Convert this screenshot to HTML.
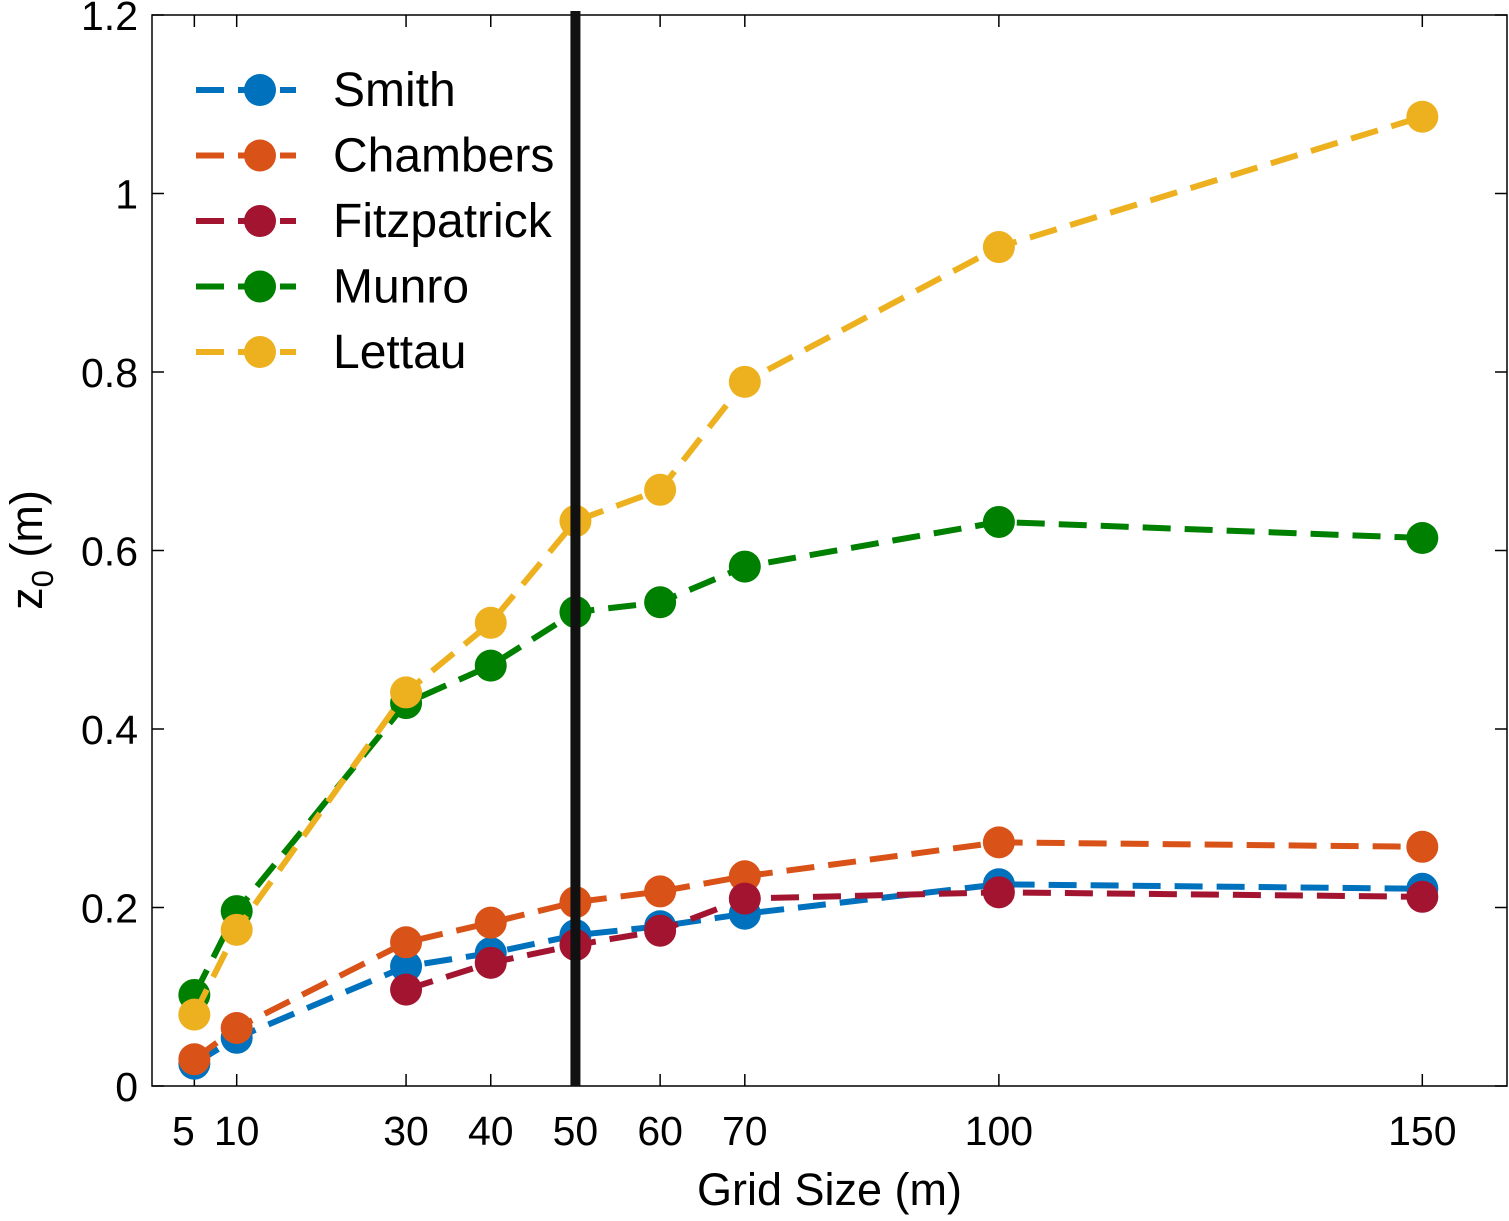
<!DOCTYPE html>
<html><head><meta charset="utf-8"><style>
body{margin:0;background:#fff}
svg text{font-family:"Liberation Sans",Arial,sans-serif;fill:#000}
</style></head><body>
<svg id="chart" width="1509" height="1216" xmlns="http://www.w3.org/2000/svg">
<g id="axes"></g><g id="series"></g><g id="legend"></g>
</svg>
<script>
const xCategories=[5,10,30,40,50,60,70,100,150];
const smithValues=[0.025,0.054,0.134,0.149,0.169,0.179,0.193,0.226,0.221];
const chambersValues=[0.030,0.065,0.161,0.183,0.206,0.218,0.235,0.273,0.268];
const fitzpatrickValues=[null,null,0.108,0.138,0.158,0.174,0.210,0.217,0.212];
const munroValues=[0.102,0.196,0.429,0.471,0.531,0.542,0.582,0.632,0.614];
const lettauValues=[0.080,0.175,0.441,0.519,0.633,0.668,0.789,0.940,1.086];
const yTicks=[0,0.2,0.4,0.6,0.8,1,1.2];
const yTickLabels=["0","0.2","0.4","0.6","0.8","1","1.2"];
const xTickLabels=["5","10","30","40","50","60","70","100","150"];
const verticalMarker=50;

const NS="http://www.w3.org/2000/svg";
const L=152,R=1507,T=15,B=1086;
const xs=v=>L+(v-0)/(160-0)*(R-L);
const ys=v=>B-(v/1.2)*(B-T);
function mk(tag,attrs,parent){const e=document.createElementNS(NS,tag);for(const k in attrs)e.setAttribute(k,attrs[k]);parent.appendChild(e);return e;}
const axes=document.getElementById('axes'),series=document.getElementById('series'),legend=document.getElementById('legend');

const frame=mk('rect',{x:L,y:T,width:R-L,height:B-T,fill:'none',stroke:'#000','stroke-width':1.5},axes);


yTicks.forEach((v,i)=>{
  const y=ys(v);
  mk('line',{x1:L,x2:L+12,y1:y,y2:y,stroke:'#000','stroke-width':1.5},axes);
  mk('line',{x1:R-12,x2:R,y1:y,y2:y,stroke:'#000','stroke-width':1.5},axes);
  const t=mk('text',{x:L-14,y:y+15,'text-anchor':'end','font-size':41},axes);
  t.textContent=yTickLabels[i];
  
  
});
xCategories.forEach((v,i)=>{
  const x=xs(v);
  mk('line',{x1:x,x2:x,y1:B,y2:B-12,stroke:'#000','stroke-width':1.5},axes);
  mk('line',{x1:x,x2:x,y1:T,y2:T+12,stroke:'#000','stroke-width':1.5},axes);
  const t=mk('text',{x:x-(v===5?11:0),y:B+59,'text-anchor':'middle','font-size':41},axes);
  t.textContent=xTickLabels[i];
  
  
});
const xt=mk('text',{x:(L+R)/2,y:1205,'text-anchor':'middle','font-size':45},axes);
xt.textContent='Grid Size (m)';


const yt=mk('text',{transform:'translate(42,550) rotate(-90)','text-anchor':'middle','font-size':45},axes);
yt.innerHTML='z<tspan font-size="31" dy="11">0</tspan><tspan dy="-11"> (m)</tspan>';



const allSeries=[
 ['Smith',smithValues,'#0072bd'],
 ['Chambers',chambersValues,'#d95319'],
 ['Fitzpatrick',fitzpatrickValues,'#a2142f'],
 ['Munro',munroValues,'#008000'],
 ['Lettau',lettauValues,'#edb120']];
allSeries.forEach(([name,vals,col])=>{
  const g=mk('g',{},series);
  
  
  const pts=[];
  vals.forEach((v,i)=>{if(v!==null)pts.push([xs(xCategories[i]),ys(v)]);});
  const p=mk('polyline',{points:pts.map(p=>p.join(',')).join(' '),fill:'none',stroke:col,'stroke-width':6,'stroke-dasharray':'28,14'},g);
  
  
  pts.forEach(([x,y])=>{
    const c=mk('circle',{cx:x,cy:y,r:16,fill:col},g);
    
    
  });
});
const vl=mk('line',{x1:xs(verticalMarker),x2:xs(verticalMarker),y1:T-4,y2:B,stroke:'#111','stroke-width':10},series);



allSeries.forEach(([name,vals,col],i)=>{
  const y=90+i*65.5;
  const g=mk('g',{},legend);
  
  
  mk('line',{x1:196,x2:296,y1:y,y2:y,stroke:col,'stroke-width':6,'stroke-dasharray':'28,14'},g);
  mk('circle',{cx:260,cy:y,r:16,fill:col},g);
  const t=mk('text',{x:333,y:y+16,'font-size':48},g);
  t.textContent=name;
});
</script>
</body></html>
